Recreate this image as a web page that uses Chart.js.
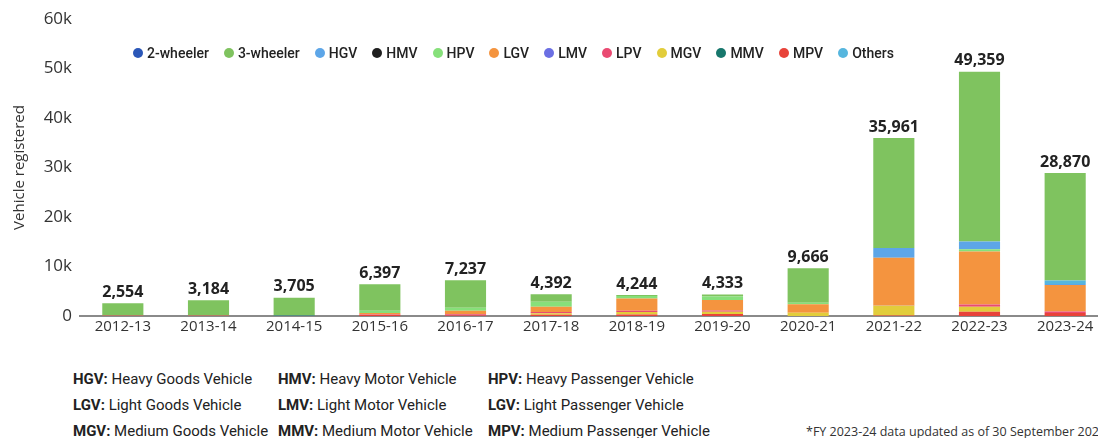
<!DOCTYPE html>
<html>
<head>
<meta charset="utf-8">
<script src="https://cdn.jsdelivr.net/npm/chart.js@4/dist/chart.umd.min.js"></script>
<style>
    html, body { margin: 0; padding: 0; background: #fff; overflow: hidden; }
    #wrap { position: relative; width: 1108px; height: 438px; }
    #chartBox { position: absolute; left: 0; top: 0; width: 1108px; height: 350px; }
    #legend {
        position: absolute;
        left: 133px;
        top: 44px;
        display: flex;
        gap: 15px;
        font-family: Roboto, sans-serif;
        font-size: 14px;
        font-weight: 500;
        line-height: 18px;
        color: #222;
        white-space: nowrap;
    }
    #legend .item { display: flex; align-items: center; }
    #legend .dot { width: 10px; height: 10px; border-radius: 50%; margin-right: 4px; }
    .abbr {
        position: absolute;
        font-family: Roboto, sans-serif;
        font-size: 15px;
        line-height: 18px;
        color: #222;
        white-space: nowrap;
    }
    .abbr b { font-weight: bold; }
    .note {
        position: absolute;
        left: 806px;
        top: 423px;
        font-family: "Open Sans", sans-serif;
        font-size: 12.5px;
        line-height: 18px;
        color: #333;
        white-space: nowrap;
    }
</style>
</head>
<body>
<div id="wrap">
    <div id="chartBox"><canvas id="vehicleChart"></canvas></div>
    <div id="legend"></div>

    <div class="abbr" style="left:73px;top:370px"><b>HGV:</b> Heavy Goods Vehicle</div>
    <div class="abbr" style="left:278px;top:370px"><b>HMV:</b> Heavy Motor Vehicle</div>
    <div class="abbr" style="left:488px;top:370px"><b>HPV:</b> Heavy Passenger Vehicle</div>

    <div class="abbr" style="left:73px;top:396px"><b>LGV:</b> Light Goods Vehicle</div>
    <div class="abbr" style="left:278px;top:396px"><b>LMV:</b> Light Motor Vehicle</div>
    <div class="abbr" style="left:488px;top:396px"><b>LGV:</b> Light Passenger Vehicle</div>

    <div class="abbr" style="left:73px;top:422px"><b>MGV:</b> Medium Goods Vehicle</div>
    <div class="abbr" style="left:278px;top:422px"><b>MMV:</b> Medium Motor Vehicle</div>
    <div class="abbr" style="left:488px;top:422px"><b>MPV:</b> Medium Passenger Vehicle</div>

    <div class="note">*FY 2023-24 data updated as of 30 September 2023</div>
</div>

<script>
const years = ['2012-13', '2013-14', '2014-15', '2015-16', '2016-17', '2017-18',
    '2018-19', '2019-20', '2020-21', '2021-22', '2022-23', '2023-24'];

const totals = [2554, 3184, 3705, 6397, 7237, 4392, 4244, 4333, 9666, 35961, 49359, 28870];

const twoWheeler   = [0, 0, 60, 0, 0, 0, 0, 0, 0, 0, 0, 0];
const threeWheeler = [2440, 3060, 3605, 5347, 5587, 1500, 200, 400, 6986, 22240, 34309, 21710];
const hgv          = [0, 0, 0, 0, 0, 0, 0, 0, 0, 1940, 1540, 200];
const hmv          = [0, 0, 0, 0, 0, 0, 0, 0, 0, 0, 0, 0];
const hpv          = [0, 0, 0, 450, 600, 1000, 500, 700, 330, 0, 470, 0];
const lgv          = [0, 0, 0, 300, 700, 1100, 2500, 2100, 1680, 9580, 10720, 5360];
const lmv          = [0, 0, 0, 0, 0, 0, 0, 0, 0, 0, 0, 0];
const lpv          = [60, 60, 0, 100, 250, 250, 250, 250, 0, 91, 450, 300];
const mgv          = [0, 0, 0, 0, 0, 300, 500, 500, 670, 2010, 1000, 0];
const mmv          = [0, 0, 40, 0, 0, 0, 0, 0, 0, 0, 0, 0];
const mpv          = [54, 64, 0, 200, 100, 242, 294, 383, 0, 100, 870, 600];
const others       = [0, 0, 0, 0, 0, 0, 0, 0, 0, 0, 0, 700];

const yTicks = [0, 10000, 20000, 30000, 40000, 50000, 60000];

const legendOrder = ['2-wheeler', '3-wheeler', 'HGV', 'HMV', 'HPV', 'LGV', 'LMV', 'LPV', 'MGV', 'MMV', 'MPV', 'Others'];
// bottom of the stack first
const stackOrder = ['MPV', 'MGV', 'LPV', 'LGV', 'LMV', 'MMV', 'HMV', '2-wheeler', 'HPV', 'HGV', 'Others', '3-wheeler'];

const series = {
    '2-wheeler': { data: twoWheeler, color: '#2b57b8' },
    '3-wheeler': { data: threeWheeler, color: '#7fc35f' },
    'HGV': { data: hgv, color: '#5da6e8' },
    'HMV': { data: hmv, color: '#1f1f1f' },
    'HPV': { data: hpv, color: '#86e07a' },
    'LGV': { data: lgv, color: '#f4943f' },
    'LMV': { data: lmv, color: '#6b6fe3' },
    'LPV': { data: lpv, color: '#ea4a72' },
    'MGV': { data: mgv, color: '#e2cd3b' },
    'MMV': { data: mmv, color: '#17776c' },
    'MPV': { data: mpv, color: '#e8433a' },
    'Others': { data: others, color: '#56b6de' }
};

const totalLabels = {
    id: 'totalLabels',
    afterDatasetsDraw(chart) {
        const {ctx, scales: {x, y}} = chart;
        ctx.save();
        ctx.font = 'bold 16px "Open Sans", sans-serif';
        ctx.fillStyle = '#222';
        ctx.textAlign = 'center';
        ctx.textBaseline = 'bottom';
        totals.forEach((t, i) => {
            ctx.fillText(t.toLocaleString('en-US'), x.getPixelForValue(i), y.getPixelForValue(t) - 3);
        });
        ctx.restore();
    }
};

document.addEventListener('DOMContentLoaded', function () {
    const el = document.getElementById('vehicleChart');

    const legend = document.getElementById('legend');
    legendOrder.forEach(name => {
        const item = document.createElement('span');
        item.className = 'item';
        item.innerHTML = '<span class="dot" style="background:' + series[name].color + '"></span>' + name;
        legend.appendChild(item);
    });

    const datasets = stackOrder.map(name => ({
        label: name,
        data: series[name].data,
        backgroundColor: series[name].color,
        borderWidth: 0,
        barPercentage: 0.48,
        categoryPercentage: 1
    }));

    new Chart(el, {
        type: 'bar',
        data: {
            labels: years,
            datasets: datasets
        },
        plugins: [totalLabels],
        options: {
            responsive: true,
            maintainAspectRatio: false,
            animation: false,
            layout: {
                padding: { top: 19, bottom: 14, left: 0, right: 0 }
            },
            plugins: {
                tooltip: { enabled: false },
                legend: { display: false }
            },
            scales: {
                x: {
                    stacked: true,
                    grid: { display: false, drawTicks: false },
                    border: { display: true, color: '#8a8a8a', width: 2 },
                    ticks: {
                        color: '#333',
                        padding: 2,
                        maxRotation: 0,
                        autoSkip: false,
                        font: { family: '"Open Sans", sans-serif', size: 15 }
                    },
                    afterFit(scale) { scale.height = 20; }
                },
                y: {
                    stacked: true,
                    min: 0,
                    max: 60000,
                    grid: { display: false, drawTicks: false },
                    border: { display: false },
                    afterBuildTicks(scale) {
                        scale.ticks = yTicks.map(v => ({ value: v }));
                    },
                    ticks: {
                        color: '#333',
                        padding: 8,
                        font: { family: '"Open Sans", sans-serif', size: 17 },
                        callback: v => v === 0 ? '0' : (v / 1000) + 'k'
                    },
                    title: {
                        display: true,
                        text: 'Vehicle registered',
                        color: '#333',
                        padding: { top: 11, bottom: 0 },
                        font: { family: '"Open Sans", sans-serif', size: 15 }
                    },
                    afterFit(scale) { scale.width = 80; }
                }
            }
        }
    });
});
</script>
</body>
</html>
